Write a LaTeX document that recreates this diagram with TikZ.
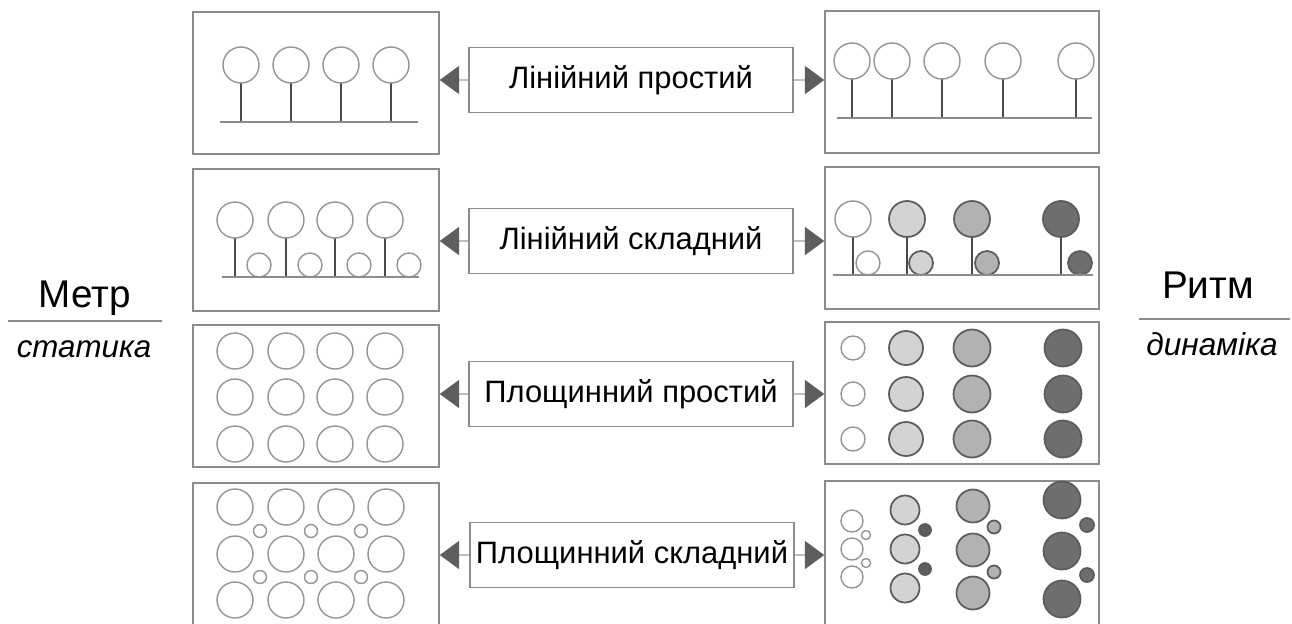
\documentclass[tikz,border=0pt]{standalone}
\usepackage{fontspec}
\setmainfont{Liberation Sans}
\usetikzlibrary{arrows.meta}
\usetikzlibrary{positioning}

\definecolor{framegray}{HTML}{8C8C8C}
\definecolor{ringgray}{HTML}{959595}
\definecolor{stemgray}{HTML}{4A4A4A}
\definecolor{tipgray}{HTML}{5E5E5E}
\definecolor{lightball}{HTML}{D3D3D3}
\definecolor{midball}{HTML}{B2B2B2}
\definecolor{darkball}{HTML}{6E6E6E}
\definecolor{ballline}{HTML}{5C5C5C}

\begin{document}
\begin{tikzpicture}[x=0.02cm,y=-0.02cm,
  panel/.style={draw=framegray,line width=0.9pt,minimum height=2.84cm,inner sep=0pt},
  label/.style={draw=framegray,line width=0.8pt,minimum width=6.48cm,minimum height=1.3cm,font=\fontsize{17.6}{21}\selectfont},
  stem/.style={draw=stemgray,line width=1.2pt},
  ground/.style={draw=framegray,line width=1pt},
  ring/.style={draw=ringgray,line width=0.8pt,fill=white},
  ball/.style={draw=ballline,line width=1pt,fill=#1},
  arr/.style={draw=gray!50,line width=0.6pt,-{Triangle[length=11pt,width=16pt,color=tipgray]}}]
\useasboundingbox (0,0) rectangle (1292,623);
% frames
\node[panel,minimum width=4.92cm] (L1) at (316,83) {};
\node[panel,minimum width=4.92cm] (L2) at (316,240) {};
\node[panel,minimum width=4.92cm] (L3) at (316,396) {};
\node[panel,minimum width=4.92cm,minimum height=2.9cm] (L4) at (316,555.5) {};
\node[panel,minimum width=5.48cm] (R1) at (962,82) {};
\node[panel,minimum width=5.48cm] (R2) at (962,238) {};
\node[panel,minimum width=5.48cm] (R3) at (962,393) {};
\node[panel,minimum width=5.48cm,minimum height=2.9cm] (R4) at (962,553.5) {};
\node[label] (C1) at (631,80) {Лінійний простий};
\node[label] (C2) at (631,241) {Лінійний складний};
\node[label] (C3) at (631,394) {Площинний простий};
\node[label] (C4) at (632,555) {Площинний складний};
\foreach \c/\l/\r in {C1/L1/R1,C2/L2/R2,C3/L3/R3,C4/L4/R4}{
  \draw[arr] (\c.west) -- (\c.west -| \l.east);
  \draw[arr] (\c.east) -- (\c.east -| \r.west);}
% side titles
\node[anchor=base,font=\fontsize{22}{26}\selectfont] (metr) at (85,307) {Метр};
\node[anchor=base,font=\fontsize{17.8}{21}\selectfont\itshape] (statyka) at (84,357) {статика};
\draw[ground] (8,321) -- (162,321);
\node[anchor=base,font=\fontsize{22}{26}\selectfont] (rytm) at (1208,298) {Ритм};
\node[anchor=base,font=\fontsize{18}{21}\selectfont\itshape] (dynamika) at (1212,355) {динаміка};
\draw[ground] (1139,319) -- (1290,319);
% linear simple
\foreach \x in {241,291,341,391}{
  \draw[stem] (\x,83) -- (\x,122);
  \draw[ring] (\x,65) circle [radius=18];}
\draw[ground] (220,122) -- (418,122);
\foreach \x in {852,892,942,1003,1076}{
  \draw[stem] (\x,79) -- (\x,118);
  \draw[ring] (\x,61) circle [radius=18];}
\draw[ground] (837,118) -- (1092,118);
% linear complex
\foreach \x in {235,286,335,385}{
  \draw[stem] (\x,238) -- (\x,277);
  \draw[ring] (\x,220) circle [radius=18];
  \draw[ring] (\x+24,265) circle [radius=12];}
\draw[ground] (222,277) -- (419,277);
\draw[stem] (853,237) -- (853,275);
\draw[ring] (853,219) circle [radius=18];
\draw[ring] (868,263) circle [radius=12];
\foreach \x/\s/\f in {907/921/lightball,972/987/midball,1061/1080/darkball}{
  \draw[stem] (\x,237) -- (\x,275);
  \draw[ball=\f] (\x,219) circle [radius=18];
  \draw[ball=\f] (\s,263) circle [radius=12];}
\draw[ground] (833,275) -- (1093,275);
% plane simple
\foreach \x in {235,286,335,385}
  \foreach \y in {351,397,444}
    \draw[ring] (\x,\y) circle [radius=18];
\foreach \y in {348,394,439}{
  \draw[ring] (853,\y) circle [radius=12];
  \draw[ball=lightball] (906,\y) circle [radius=17];
  \draw[ball=midball] (972,\y) circle [radius=18.5];
  \draw[ball=darkball] (1063,\y) circle [radius=18.5];}
% plane complex
\foreach \x in {235,286,336,386}
  \foreach \y in {507,554,600}
    \draw[ring] (\x,\y) circle [radius=18];
\foreach \x in {260,311,361}
  \foreach \y in {531,577}
    \draw[ring] (\x,\y) circle [radius=6.5];
\foreach \y in {521,549,577} \draw[ring] (852,\y) circle [radius=11];
\foreach \y in {535,563} \draw[ring] (866,\y) circle [radius=4.5];
\foreach \y in {510,549,588} \draw[ball=lightball] (905,\y) circle [radius=14.5];
\foreach \y in {530,569} \draw[ball=darkball!85!black] (925,\y) circle [radius=6];
\foreach \y in {506,550,593} \draw[ball=midball] (973,\y) circle [radius=16.5];
\foreach \y in {527,572} \draw[ball=midball] (994,\y) circle [radius=6.5];
\foreach \y in {500,551,599} \draw[ball=darkball] (1062,\y) circle [radius=18.5];
\foreach \y in {525,575} \draw[ball=darkball] (1087,\y) circle [radius=7];
\end{tikzpicture}
\end{document}
